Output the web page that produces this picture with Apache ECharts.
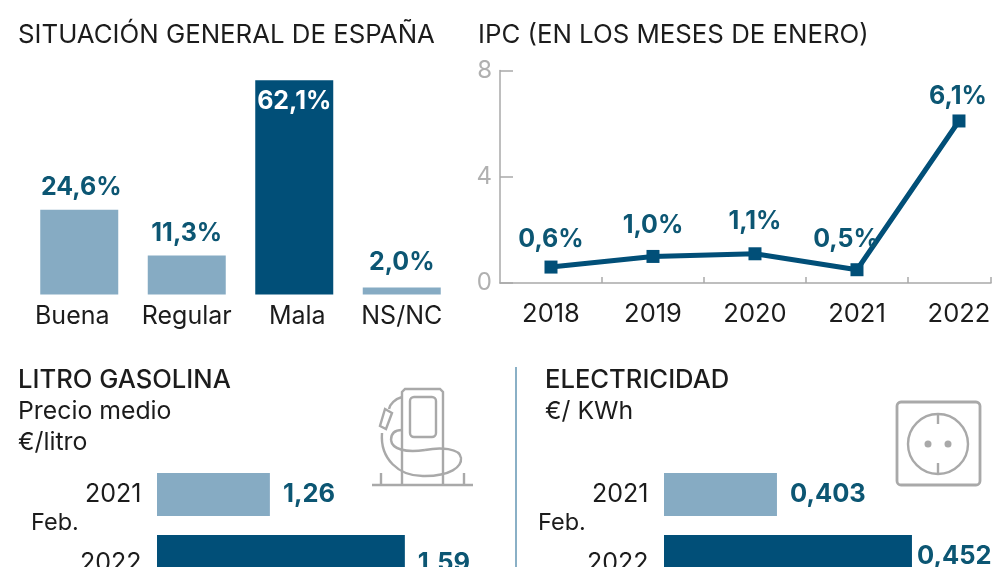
<!DOCTYPE html>
<html><head><meta charset="utf-8">
<style>html,body{margin:0;padding:0;background:#fff;overflow:hidden}#c{width:1000px;height:567px}</style>
<script src="https://cdn.jsdelivr.net/npm/echarts@6/dist/echarts.min.js"></script>
</head><body><div id="c"></div>
<script>
const opinionCats = ['Buena','Regular','Mala','NS/NC'];
const opinionValues = [24.6,11.3,62.1,2.0];
const ipcYears = [2018,2019,2020,2021,2022];
const ipcValues = [0.6,1.0,1.1,0.5,6.1];
const febYears = ['2021','2022'];
const gasValues = [1.26,1.59];
const elecValues = [0.403,0.452];

const DARK='#014f78', LIGHT='#86abc3', LABEL='#0c5673', TXT='#1c1c1c', GREY='#a9a9a9', FONT='Inter';
const comma=(v,d)=>v.toFixed(d).replace('.',',');
const chart=echarts.init(document.getElementById('c'),null,{renderer:'canvas'});

const titleStyle={fontFamily:FONT,fontSize:25.8,fontWeight:400,color:TXT};
const hbarTitle={fontFamily:FONT,fontSize:25.6,fontWeight:500,color:TXT};
const subStyle={fontFamily:FONT,fontSize:24.8,fontWeight:400,color:TXT,lineHeight:31};
const febStyle={fontFamily:FONT,fontSize:23.5,fontWeight:400,color:TXT};
const tickFont={fontFamily:FONT,fontSize:25,color:TXT};

const opinionLabelOffset=[[2,0],[0,0],[0,0],[0,-3]];
const ipcLabelOffset=[[0,3],[0,0],[0,-1],[-11,1],[-1,7]];

function hbar(idx,values,dec,offsets){
  return {type:'bar',xAxisIndex:idx,yAxisIndex:idx,barWidth:43,silent:true,
    data:values.map((v,i)=>({value:v,
      itemStyle:{color:i===0?LIGHT:DARK},
      label:{offset:offsets[i]}})),
    label:{show:true,position:'right',distance:13,fontFamily:FONT,fontSize:25.5,fontWeight:700,color:LABEL,
      formatter:p=>comma(p.value,dec)}};
}
function hAxes(){return{type:'category',data:febYears,inverse:true,axisLine:{show:false},axisTick:{show:false},
  axisLabel:Object.assign({margin:15.5,interval:0,hideOverlap:false,
    formatter:(v,i)=>i===1?'{low|'+v+'}':v,
    rich:{low:Object.assign({padding:[14,0,0,0]},tickFont)}},tickFont)};}
function hX(min,max){return{type:'value',min,max,show:false,splitLine:{show:false}};}
const stroke=(w)=>({stroke:GREY,fill:null,lineWidth:w||2.4});
function curve(x1,y1,cpx1,cpy1,cpx2,cpy2,x2,y2){return{type:'bezierCurve',shape:{x1,y1,cpx1,cpy1,cpx2,cpy2,x2,y2},style:stroke()};}

chart.setOption({
  animation:false,
  backgroundColor:'#fff',
  title:[
    {text:'SITUACIÓN GENERAL DE ESPAÑA',left:18,top:22,padding:0,textStyle:titleStyle},
    {text:'IPC (EN LOS MESES DE ENERO)',left:478,top:22,padding:0,textStyle:titleStyle},
    {text:'LITRO GASOLINA',left:18,top:367,padding:0,textStyle:hbarTitle},
    {text:'Precio medio\n€/litro',left:18,top:396,padding:0,textStyle:subStyle},
    {text:'ELECTRICIDAD',left:545,top:367,padding:0,textStyle:hbarTitle},
    {text:'€/ KWh',left:545,top:396,padding:0,textStyle:subStyle},
    {text:'Feb.',left:31,top:511,padding:0,textStyle:febStyle},
    {text:'Feb.',left:538,top:511,padding:0,textStyle:febStyle}
  ],
  grid:[
    {left:25.5,width:430,top:53,height:241.5,outerBoundsMode:'none'},
    {left:500,width:491,top:70.5,height:212.5,outerBoundsMode:'none'},
    {left:157,width:330,top:463.5,height:124,outerBoundsMode:'none'},
    {left:664,width:330,top:463.5,height:124,outerBoundsMode:'none'}
  ],
  xAxis:[
    {gridIndex:0,type:'category',data:opinionCats,axisLine:{show:false},axisTick:{show:false},
      axisLabel:Object.assign({margin:9,interval:0,hideOverlap:false,
        formatter:(v,i)=>i===0?'{l|'+v+'}':i===2?'{r|'+v+'}':v,
        rich:{l:Object.assign({padding:[0,14,0,0]},tickFont),r:Object.assign({padding:[0,0,0,6]},tickFont)}},tickFont)},
    {gridIndex:1,type:'value',min:2017.5,max:2022.314,splitLine:{show:false},
      axisLine:{show:true,lineStyle:{color:GREY,width:1.5}},
      axisTick:{show:true,inside:true,length:6,lineStyle:{color:GREY,width:1.5},customValues:[2018.5,2019.5,2020.5,2021.5,2022.314]},
      axisLabel:Object.assign({margin:18,customValues:ipcYears,formatter:v=>String(v)},tickFont,{fontSize:25.5})},
    Object.assign(hX(0.984,0.984+330/409),{gridIndex:2}),
    Object.assign(hX(0.362,0.362+330/2755),{gridIndex:3})
  ],
  yAxis:[
    {gridIndex:0,type:'value',min:0,max:70,show:false,splitLine:{show:false}},
    {gridIndex:1,type:'value',min:0,max:8,interval:4,splitLine:{show:false},
      axisLine:{show:true,lineStyle:{color:GREY,width:1.5}},
      axisTick:{show:true,inside:true,length:13,lineStyle:{color:GREY,width:1.5}},
      axisLabel:{margin:8,fontFamily:FONT,fontSize:24,color:'#b0b0b0'}},
    Object.assign(hAxes(),{gridIndex:2}),
    Object.assign(hAxes(),{gridIndex:3})
  ],
  series:[
    {type:'bar',xAxisIndex:0,yAxisIndex:0,barWidth:78,silent:true,
      data:opinionValues.map((v,i)=>({value:v,
        itemStyle:{color:v>50?DARK:LIGHT},
        label:v>50?{position:'insideTop',distance:9,color:'#fff',offset:[0,0]}:{position:'top',distance:10,color:LABEL,offset:opinionLabelOffset[i]}})),
      label:{show:true,fontFamily:FONT,fontSize:25,fontWeight:700,formatter:p=>comma(p.value,1)+'%'}},
    {type:'line',xAxisIndex:1,yAxisIndex:1,silent:true,
      data:ipcYears.map((y,i)=>({value:[y,ipcValues[i]],label:{offset:ipcLabelOffset[i]}})),
      symbol:'rect',symbolSize:13,showSymbol:true,
      lineStyle:{color:DARK,width:5},itemStyle:{color:DARK},
      label:{show:true,position:'top',distance:12,fontFamily:FONT,fontSize:25,fontWeight:700,color:LABEL,
        formatter:p=>comma(p.value[1],1)+'%'}},
    hbar(2,gasValues,2,[[0,0],[0,7]]),
    hbar(3,elecValues,3,[[0,0],[-8,0]])
  ],
  graphic:[
    {type:'line',shape:{x1:516,y1:367,x2:516,y2:567},style:{stroke:'#8ab0c6',lineWidth:2},silent:true},
    {type:'group',silent:true,children:[
      {type:'polyline',shape:{points:[[402,485],[402,392],[405,389],[440,389],[443,392],[443,485]]},style:stroke()},
      {type:'rect',shape:{x:410,y:397,width:26,height:40,r:4},style:stroke()},
      {type:'line',shape:{x1:372,y1:485,x2:473,y2:485},style:stroke()},
      {type:'line',shape:{x1:381,y1:473,x2:381,y2:485},style:stroke()},
      {type:'line',shape:{x1:464,y1:473,x2:464,y2:485},style:stroke()},
      {type:'polygon',shape:{points:[[385,409],[392,413],[386,429],[380,426]]},style:stroke()},
      curve(389,409,390,404,395,399,402,397),
      curve(382,433,380,458,398,477,425,476),
      curve(425,476,450,476,462,467,461,458),
      curve(461,458,460,448,440,447,425,450),
      curve(425,450,405,453,392,449,391,440),
      curve(391,440,391,432,396,430,402,430)
    ]},
    {type:'group',silent:true,children:[
      {type:'rect',shape:{x:897,y:402,width:83,height:83,r:4},style:stroke(2.8)},
      {type:'circle',shape:{cx:938,cy:444,r:30},style:stroke()},
      {type:'line',shape:{x1:938,y1:414,x2:938,y2:424},style:stroke()},
      {type:'line',shape:{x1:938,y1:463,x2:938,y2:473},style:stroke()},
      {type:'circle',shape:{cx:928,cy:444,r:3.5},style:{fill:GREY}},
      {type:'circle',shape:{cx:948,cy:444,r:3.5},style:{fill:GREY}}
    ]}
  ]
});
</script></body></html>
